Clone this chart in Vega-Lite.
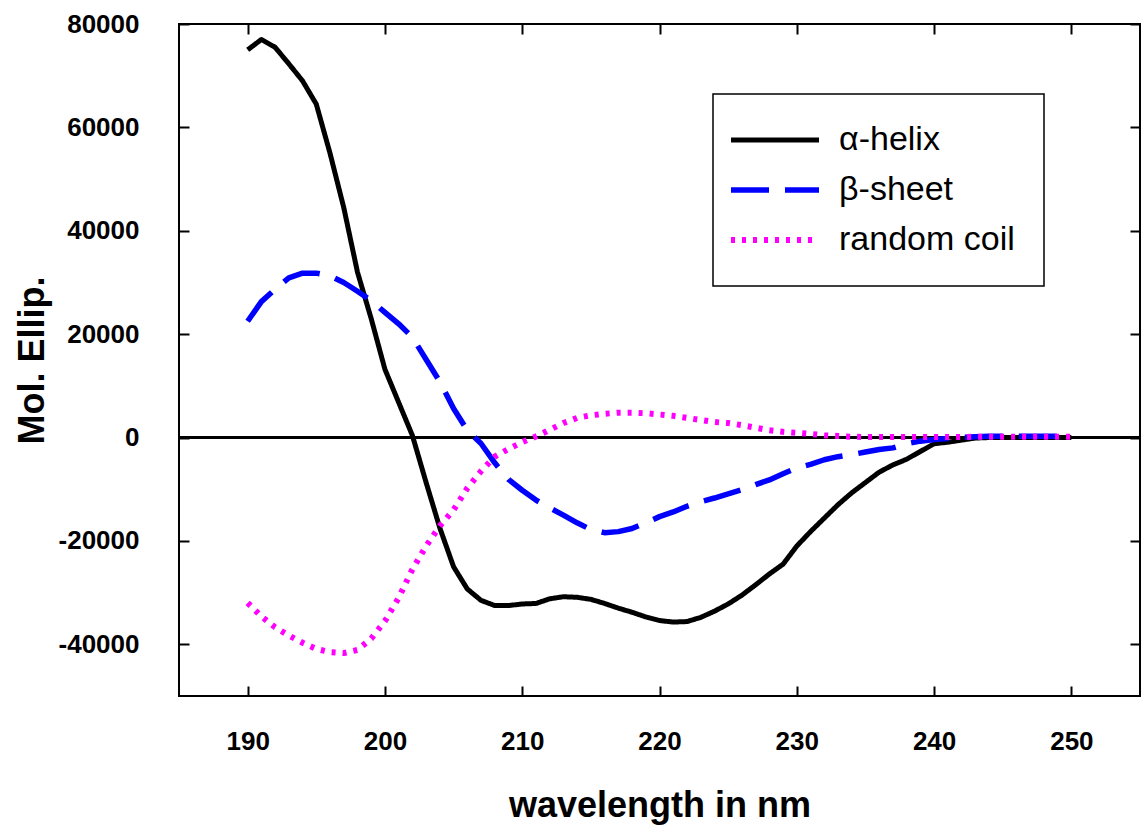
{
  "$schema": "https://vega.github.io/schema/vega-lite/v6.json",
  "width": 961,
  "height": 672,
  "autosize": {"type": "none"},
  "padding": {"left": 179, "top": 24, "right": 2, "bottom": 129},
  "background": "white",
  "config": {
    "view": {"stroke": "black", "strokeWidth": 2},
    "font": "Liberation Sans"
  },
  "data": {
    "values": [
      {"nm":190,"α-helix":75000,"β-sheet":22500,"random coil":-32000},
      {"nm":191,"α-helix":77000,"β-sheet":26300,"random coil":-34600},
      {"nm":192,"α-helix":75500,"β-sheet":28700,"random coil":-36700},
      {"nm":193,"α-helix":72300,"β-sheet":30900,"random coil":-38300},
      {"nm":194,"α-helix":69000,"β-sheet":31800,"random coil":-39700},
      {"nm":195,"α-helix":64500,"β-sheet":31800,"random coil":-40900},
      {"nm":196,"α-helix":55000,"β-sheet":31300,"random coil":-41500},
      {"nm":197,"α-helix":44500,"β-sheet":30000,"random coil":-41700},
      {"nm":198,"α-helix":32000,"β-sheet":28300,"random coil":-41100},
      {"nm":199,"α-helix":23000,"β-sheet":26500,"random coil":-38900},
      {"nm":200,"α-helix":13200,"β-sheet":24200,"random coil":-35500},
      {"nm":201,"α-helix":6800,"β-sheet":22000,"random coil":-31000},
      {"nm":202,"α-helix":400,"β-sheet":19400,"random coil":-25500},
      {"nm":203,"α-helix":-8700,"β-sheet":15100,"random coil":-21000},
      {"nm":204,"α-helix":-17500,"β-sheet":10800,"random coil":-17100},
      {"nm":205,"α-helix":-25000,"β-sheet":5600,"random coil":-14000},
      {"nm":206,"α-helix":-29300,"β-sheet":1400,"random coil":-9800},
      {"nm":207,"α-helix":-31500,"β-sheet":-1150,"random coil":-6500},
      {"nm":208,"α-helix":-32500,"β-sheet":-4900,"random coil":-3700},
      {"nm":209,"α-helix":-32500,"β-sheet":-8100,"random coil":-2200},
      {"nm":210,"α-helix":-32200,"β-sheet":-10200,"random coil":-900},
      {"nm":211,"α-helix":-32100,"β-sheet":-12100,"random coil":200},
      {"nm":212,"α-helix":-31200,"β-sheet":-13600,"random coil":1500},
      {"nm":213,"α-helix":-30800,"β-sheet":-15000,"random coil":2800},
      {"nm":214,"α-helix":-30900,"β-sheet":-16500,"random coil":3800},
      {"nm":215,"α-helix":-31300,"β-sheet":-17800,"random coil":4300},
      {"nm":216,"α-helix":-32100,"β-sheet":-18400,"random coil":4600},
      {"nm":217,"α-helix":-33000,"β-sheet":-18200,"random coil":4800},
      {"nm":218,"α-helix":-33800,"β-sheet":-17600,"random coil":4800},
      {"nm":219,"α-helix":-34700,"β-sheet":-16500,"random coil":4700},
      {"nm":220,"α-helix":-35400,"β-sheet":-15300,"random coil":4450},
      {"nm":221,"α-helix":-35700,"β-sheet":-14400,"random coil":4200},
      {"nm":222,"α-helix":-35600,"β-sheet":-13300,"random coil":3800},
      {"nm":223,"α-helix":-34800,"β-sheet":-12400,"random coil":3400},
      {"nm":224,"α-helix":-33600,"β-sheet":-11700,"random coil":3000},
      {"nm":225,"α-helix":-32200,"β-sheet":-10900,"random coil":2800},
      {"nm":226,"α-helix":-30500,"β-sheet":-10100,"random coil":2400},
      {"nm":227,"α-helix":-28500,"β-sheet":-9100,"random coil":1900},
      {"nm":228,"α-helix":-26400,"β-sheet":-8200,"random coil":1400},
      {"nm":229,"α-helix":-24500,"β-sheet":-7000,"random coil":1100},
      {"nm":230,"α-helix":-21000,"β-sheet":-5900,"random coil":900},
      {"nm":231,"α-helix":-18200,"β-sheet":-5200,"random coil":700},
      {"nm":232,"α-helix":-15600,"β-sheet":-4300,"random coil":450},
      {"nm":233,"α-helix":-13000,"β-sheet":-3700,"random coil":300},
      {"nm":234,"α-helix":-10700,"β-sheet":-3300,"random coil":150},
      {"nm":235,"α-helix":-8700,"β-sheet":-2800,"random coil":100},
      {"nm":236,"α-helix":-6700,"β-sheet":-2300,"random coil":100},
      {"nm":237,"α-helix":-5300,"β-sheet":-2000,"random coil":100},
      {"nm":238,"α-helix":-4200,"β-sheet":-1200,"random coil":100},
      {"nm":239,"α-helix":-2700,"β-sheet":-700,"random coil":100},
      {"nm":240,"α-helix":-1200,"β-sheet":-400,"random coil":100},
      {"nm":241,"α-helix":-900,"β-sheet":-200,"random coil":100},
      {"nm":242,"α-helix":-500,"β-sheet":0,"random coil":100},
      {"nm":243,"α-helix":-100,"β-sheet":150,"random coil":150},
      {"nm":244,"α-helix":0,"β-sheet":250,"random coil":150},
      {"nm":245,"α-helix":0,"β-sheet":250,"random coil":150},
      {"nm":246,"α-helix":0,"β-sheet":250,"random coil":150},
      {"nm":247,"α-helix":0,"β-sheet":250,"random coil":150},
      {"nm":248,"α-helix":0,"β-sheet":250,"random coil":150},
      {"nm":249,"α-helix":0,"β-sheet":250,"random coil":150},
      {"nm":250,"α-helix":0,"β-sheet":250,"random coil":150}
    ]
  },
  "resolve": {"axis": {"x": "independent", "y": "independent"}},
  "layer": [
    {
      "mark": {"type": "rule", "color": "black", "strokeWidth": 1.5},
      "encoding": {
        "y": {"datum": 0, "type": "quantitative", "scale": {"domain": [-50000, 80000]},
          "axis": {"orient": "right", "labels": false, "title": null, "tickSize": -10, "tickWidth": 2, "tickColor": "black", "domain": false, "grid": false, "values": [-40000,-20000,0,20000,40000,60000,80000]}}
      }
    },
    {
      "transform": [{"fold": ["α-helix", "β-sheet", "random coil"], "as": ["series", "value"]}],
      "mark": {"type": "line", "strokeCap": "butt", "strokeJoin": "round", "clip": true},
      "encoding": {
        "x": {"field": "nm", "type": "quantitative",
          "scale": {"domain": [185, 255], "nice": false, "zero": false},
          "axis": {"orient": "bottom", "title": "wavelength in nm", "values": [190,200,210,220,230,240,250],
            "tickSize": -10, "tickWidth": 2, "tickColor": "black", "domain": false, "grid": false,
            "labelFont": "Liberation Sans", "labelFontWeight": "bold", "labelFontSize": 26, "labelColor": "black",
            "labelPadding": 42, "titleFont": "Liberation Sans", "titleFontWeight": "bold", "titleFontSize": 36,
            "titleColor": "black", "titlePadding": 34}},
        "y": {"field": "value", "type": "quantitative",
          "scale": {"domain": [-50000, 80000], "nice": false},
          "axis": {"orient": "left", "title": "Mol. Ellip.", "values": [-40000,-20000,0,20000,40000,60000,80000],
            "labelExpr": "datum.value < 0 ? '-' + format(-datum.value, 'd') : format(datum.value, 'd')",
            "tickSize": -10, "tickWidth": 2, "tickColor": "black", "domain": false, "grid": false,
            "labelFont": "Liberation Sans", "labelFontWeight": "bold", "labelFontSize": 26, "labelColor": "black",
            "labelPadding": 50, "titleFont": "Liberation Sans", "titleFontWeight": "bold", "titleFontSize": 36,
            "titleColor": "black", "titlePadding": 7}},
        "color": {"field": "series", "type": "nominal",
          "scale": {"domain": ["α-helix", "β-sheet", "random coil"], "range": ["#000000", "#0000ff", "#ff00ff"]},
          "legend": {"orient": "none", "legendX": 534, "legendY": 70, "title": null,
            "strokeColor": "black", "fillColor": "white", "padding": 29,
            "symbolType": "M-2.154,0H4.615", "symbolSize": 676, "symbolStrokeWidth": 6,
            "labelFont": "Liberation Sans", "labelFontSize": 34, "labelColor": "black", "labelOffset": 63,
            "labelLimit": 400, "rowPadding": 16,
            "encode": {"legend": {"update": {"strokeWidth": {"value": 1.5}}}}}},
        "strokeDash": {"field": "series", "type": "nominal",
          "scale": {"domain": ["α-helix", "β-sheet", "random coil"], "range": [[1, 0], [38, 16], [4, 7]]},
          "legend": null},
        "strokeWidth": {"field": "series", "type": "nominal",
          "scale": {"domain": ["α-helix", "β-sheet", "random coil"], "range": [5, 6, 5]},
          "legend": null}
      }
    },
    {
      "mark": {"type": "rule", "opacity": 0},
      "encoding": {
        "x": {"datum": 190, "type": "quantitative", "scale": {"domain": [185, 255]},
          "axis": {"orient": "top", "labels": false, "title": null, "tickSize": -10, "tickWidth": 2, "tickColor": "black", "domain": false, "grid": false, "values": [190,200,210,220,230,240,250]}}
      }
    }
  ]
}
